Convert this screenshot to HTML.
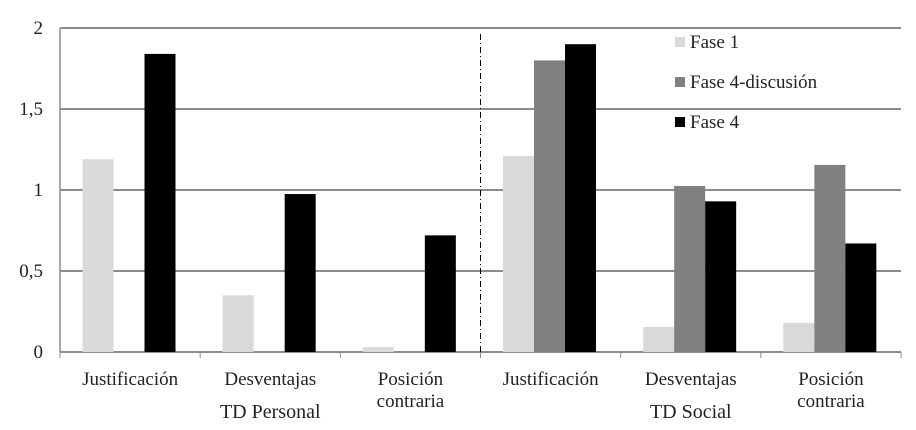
<!DOCTYPE html>
<html><head><meta charset="utf-8"><style>
body{margin:0;background:#fff;}
svg text{font-family:"Liberation Serif",serif;fill:#222;}
</style></head><body>
<svg id="chart" width="916" height="425"></svg>
<script>
const categories=["Justificación","Desventajas","Posición contraria","Justificación","Desventajas","Posición contraria"];
const fase1=[1.19,0.35,0.03,1.21,0.155,0.18];
const fase4disc=[null,null,null,1.80,1.025,1.155];
const fase4=[1.84,0.975,0.72,1.90,0.93,0.67];
const yTicks=[0,0.5,1,1.5,2];
const yTickLabels=["0","0,5","1","1,5","2"];
const seriesNames=["Fase 1","Fase 4-discusión","Fase 4"];
const groupLabels=["TD Personal","TD Social"];

const svg=document.getElementById('chart');
const NS="http://www.w3.org/2000/svg";
const x0=60,x1=901,y0=352,yTop=28;
const gw=(x1-x0)/categories.length;
const y=v=>y0-(v/2)*(y0-yTop);
const gx=i=>x0+i*gw;
function mk(tag,attrs,parent){const e=document.createElementNS(NS,tag);for(const k in attrs)e.setAttribute(k,attrs[k]);(parent||svg).appendChild(e);return e;}

yTicks.forEach((t,i)=>{
  if(t>0){const l=mk('line',{x1:x0,x2:x1,y1:y(t),y2:y(t),stroke:'#8c8c8c','stroke-width':2});
  
  }
  const tx=mk('text',{x:43,y:y(t)+6,'text-anchor':'end','font-size':19});
  tx.textContent=yTickLabels[i];
  
  
});
const ax=mk('line',{x1:x0,x2:x0,y1:yTop,y2:y0,stroke:'#8c8c8c','stroke-width':1.5});


const bx=mk('line',{x1:x0,x2:x1,y1:y0,y2:y0,stroke:'#8c8c8c','stroke-width':2});


for(let i=0;i<=categories.length;i++){
  const tk=mk('line',{x1:gx(i),x2:gx(i),y1:y0,y2:y0+6,stroke:'#8c8c8c','stroke-width':1});
  
  
}
const dv=mk('line',{x1:gx(3),x2:gx(3),y1:yTop+6,y2:y0,stroke:'#000','stroke-width':1,'stroke-dasharray':'6,3,1,3'});



const series=[fase1,fase4disc,fase4];
const colors=['#d9d9d9','#808080','#000000'];
const bw=31;
series.forEach((s,si)=>{
  s.forEach((v,i)=>{
    if(v==null)return;
    const r=mk('rect',{x:gx(i)+22.5+si*bw,y:y(v),width:bw,height:y0-y(v),fill:colors[si]});
    
    
  });
});

categories.forEach((c,i)=>{
  const cx=gx(i)+gw/2;
  const parts=c==="Posición contraria"?["Posición","contraria"]:[c];
  parts.forEach((p,j)=>{
    const t=mk('text',{x:cx,y:385+j*22,'text-anchor':'middle','font-size':19});
    t.textContent=p;
    
    
  });
});
groupLabels.forEach((g,i)=>{
  const t=mk('text',{x:gx(i*3)+gw*1.5,y:418,'text-anchor':'middle','font-size':20});
  t.textContent=g;
  
  
});
seriesNames.forEach((n,i)=>{
  const ly=42+i*40;
  const r=mk('rect',{x:675,y:ly-5,width:10,height:10,fill:colors[i]});
  
  
  const t=mk('text',{x:690,y:ly+6,'font-size':19});
  t.textContent=n;
  
  
});
</script>
</body></html>
